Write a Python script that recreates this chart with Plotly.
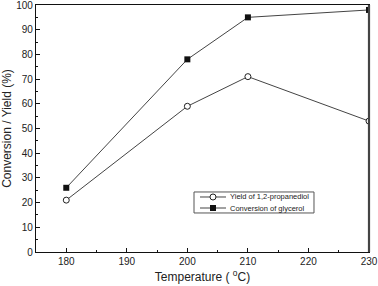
import plotly.graph_objects as go

temperature = [180, 200, 210, 230]
yield_pd = [21, 59, 71, 53]
conversion = [26, 78, 95, 98]
series_names = ["Yield of 1,2-propanediol", "Conversion of glycerol"]

font = "Liberation Sans, Arial, sans-serif"
ink = "#222222"

fig = go.Figure()
fig.add_trace(go.Scatter(
    x=temperature, y=yield_pd, mode="lines+markers", name=series_names[0],
    line=dict(color="#444444", width=1),
    marker=dict(symbol="circle", size=6, color="white", line=dict(width=1, color="#222222")),
))
fig.add_trace(go.Scatter(
    x=temperature, y=conversion, mode="lines+markers", name=series_names[1],
    line=dict(color="#444444", width=1),
    marker=dict(symbol="square", size=6, color="#111111"),
))

axis_common = dict(
    showgrid=False, zeroline=False, showline=True, mirror=True, automargin=False,
    linecolor="#111111", linewidth=1.2, ticks="inside", ticklen=4,
    tickcolor="#111111", tickfont=dict(family=font, size=10, color=ink),
    ticklabeloverflow="allow",
)

# custom compact legend (paper coordinates of the plotting area)
shapes = [
    dict(type="rect", xref="paper", yref="paper", x0=0.4745, x1=0.8348, y0=0.158, y1=0.243,
         line=dict(color="#555555", width=1), fillcolor="white", layer="above"),
    dict(type="line", xref="paper", yref="paper", x0=1, x1=1, y0=0, y1=1,
         line=dict(color="#444444", width=2.2)),
]
annotations = []
rows = [0.2227, 0.1781]
for i, yy in enumerate(rows):
    shapes.append(dict(type="line", xref="paper", yref="paper", x0=0.4925, x1=0.5706, y0=yy, y1=yy,
                       line=dict(color="#444444", width=1), layer="above"))
    if i == 0:
        shapes.append(dict(type="circle", xref="paper", yref="paper", xsizemode="pixel", ysizemode="pixel",
                           xanchor=0.5315, yanchor=yy, x0=-3, x1=3, y0=-3, y1=3,
                           line=dict(color="#222222", width=1), fillcolor="white", layer="above"))
    else:
        shapes.append(dict(type="rect", xref="paper", yref="paper", xsizemode="pixel", ysizemode="pixel",
                           xanchor=0.5315, yanchor=yy, x0=-3, x1=3, y0=-3, y1=3,
                           line=dict(color="#111111", width=0), fillcolor="#111111", layer="above"))
    annotations.append(dict(text=series_names[i], xref="paper", yref="paper", x=0.5766, y=yy,
                            xanchor="left", yanchor="middle", showarrow=False,
                            font=dict(family=font, size=7.5, color=ink)))

fig.update_layout(
    width=378, height=286,
    margin=dict(l=36, r=9, t=5, b=34),
    paper_bgcolor="white", plot_bgcolor="white",
    showlegend=False,
    shapes=shapes, annotations=annotations,
    xaxis=dict(
        range=[175, 230], tickvals=[180, 190, 200, 210, 220, 230],
        minor=dict(ticks="inside", ticklen=2, dtick=5, tick0=175, tickcolor="#111111"),
        title=dict(text="Temperature ( <sup>o</sup>C)", font=dict(family=font, size=12, color=ink), standoff=6),
        **axis_common,
    ),
    yaxis=dict(
        range=[0, 100], dtick=10,
        minor=dict(ticks="inside", ticklen=2, dtick=5, tickcolor="#111111"),
        title=dict(text="Conversion / Yield (%)", font=dict(family=font, size=12, color=ink), standoff=4),
        **axis_common,
    ),
)

fig.write_html("out.html", config={"displayModeBar": False},
               post_script="document.body.style.margin='0';")
